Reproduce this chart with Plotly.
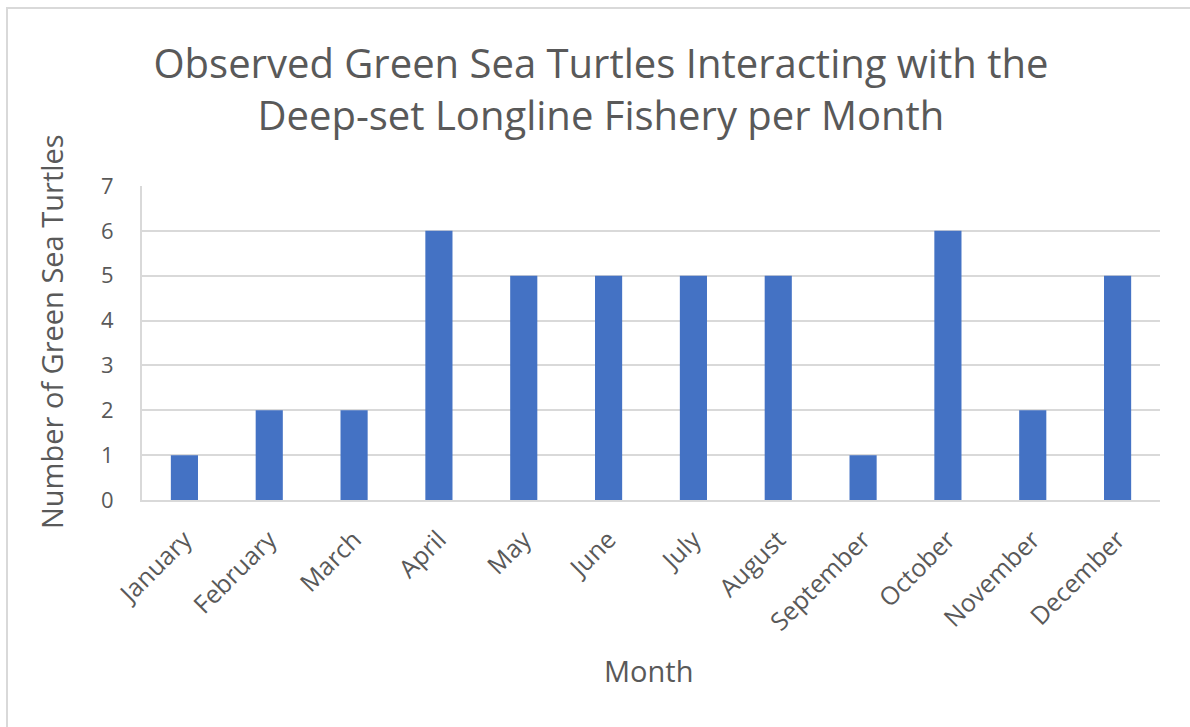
import plotly.graph_objects as go

# Monthly counts of observed green sea turtle interactions
months = ["January", "February", "March", "April", "May", "June",
          "July", "August", "September", "October", "November", "December"]
turtles = [1, 2, 2, 6, 5, 5, 5, 5, 1, 6, 2, 5]
y_ticks = [0, 1, 2, 3, 4, 5, 6, 7]

W, H = 1190, 727
L, R, T, B = 142, 30, 186, 227
TEXT = "#595959"
GRID = "#d9d9d9"
FONT = "Open Sans"

fig = go.Figure(
    go.Bar(
        x=months,
        y=turtles,
        width=0.32,
        marker=dict(color="#4472C4", line=dict(width=0)),
        hoverinfo="x+y",
    )
)

fig.update_layout(
    width=W,
    height=H,
    margin=dict(l=L, r=R, t=T, b=B, pad=0),
    paper_bgcolor="white",
    plot_bgcolor="white",
    showlegend=False,
    font=dict(family=FONT, color=TEXT),
    title=dict(
        text="Observed Green Sea Turtles Interacting with the<br>Deep-set Longline Fishery per Month",
        font=dict(family=FONT, size=40, color=TEXT),
        x=0.505,
        xanchor="center",
        y=1 - 78 / H,
        yanchor="middle",
        xref="container",
        yref="container",
    ),
    xaxis=dict(
        tickangle=-45,
        tickfont=dict(size=25, color=TEXT),
        showgrid=False,
        showline=True,
        linecolor=GRID,
        linewidth=2,
        ticks="",
        ticklabelstandoff=13,
        range=[-0.5, 11.5],
    ),
    yaxis=dict(
        range=[0, 7],
        tickvals=y_ticks,
        tickfont=dict(size=22, color=TEXT),
        showgrid=True,
        gridcolor=GRID,
        gridwidth=2,
        showline=True,
        linecolor=GRID,
        linewidth=2,
        zeroline=False,
        ticks="",
        ticklabelstandoff=22,
    ),
)

# Axis titles
fig.add_annotation(
    text="Month", xref="paper", yref="paper",
    x=(648 - L) / (W - L - R), y=-(670 - (H - B)) / (H - T - B),
    xanchor="center", yanchor="middle", showarrow=False,
    font=dict(family=FONT, size=29, color=TEXT),
)
fig.add_annotation(
    text="Number of Green Sea Turtles", xref="paper", yref="paper",
    x=-(L - 51) / (W - L - R), y=(H - B - 332) / (H - T - B),
    xanchor="center", yanchor="middle", showarrow=False, textangle=-90,
    font=dict(family=FONT, size=29, color=TEXT),
)

# Chart frame (top and left edges)
fig.add_shape(type="line", xref="paper", yref="paper",
              x0=-(L - 6) / (W - L - R), x1=(W - L) / (W - L - R),
              y0=(H - B - 8) / (H - T - B), y1=(H - B - 8) / (H - T - B),
              line=dict(color=GRID, width=2), layer="below")
fig.add_shape(type="line", xref="paper", yref="paper",
              x0=-(L - 7) / (W - L - R), x1=-(L - 7) / (W - L - R),
              y0=(H - B - 8) / (H - T - B), y1=-B / (H - T - B),
              line=dict(color=GRID, width=2), layer="below")

fig.write_html("out.html")
